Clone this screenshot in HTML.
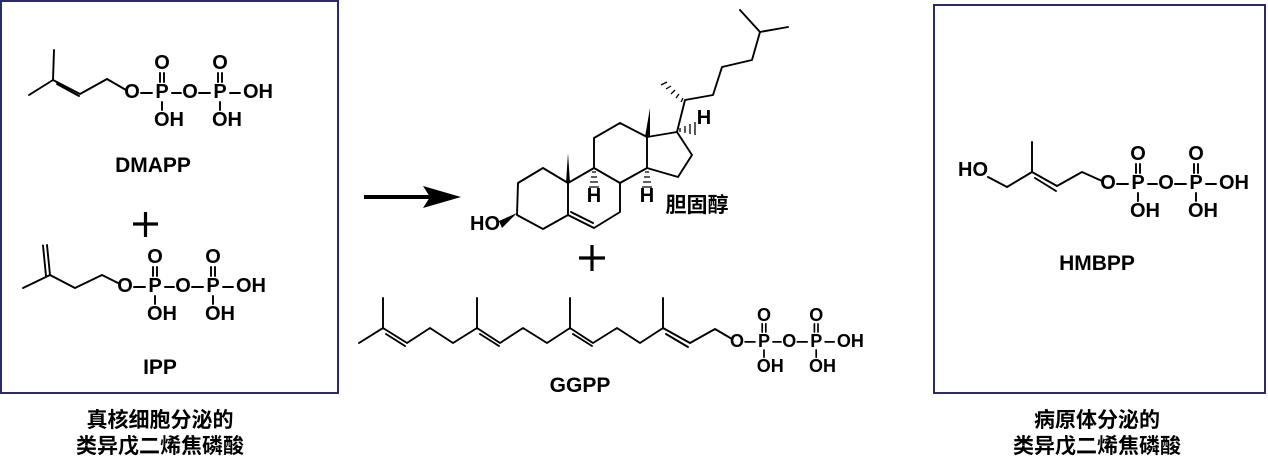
<!DOCTYPE html>
<html><head><meta charset="utf-8"><style>
html,body{margin:0;padding:0;background:#fff;}
svg{display:block;}
text{font-family:"Liberation Sans","Noto Sans CJK SC",sans-serif;font-weight:bold;fill:#000;}
.b{stroke:#000;stroke-width:1.9;fill:none;stroke-linecap:round;stroke-linejoin:round;}
.cn{font-family:"Liberation Sans","Noto Sans CJK SC",sans-serif;font-size:21px;}
</style></head><body>
<svg width="1268" height="461" viewBox="0 0 1268 461" xmlns="http://www.w3.org/2000/svg">
<defs>
<g id="pp">
  <g font-size="20" text-anchor="middle" dominant-baseline="central">
    <text x="0" y="0">O</text>
    <text x="30" y="0">P</text>
    <text x="58" y="0">O</text>
    <text x="88" y="0">P</text>
    <text x="126" y="0">OH</text>
    <text x="30" y="-29">O</text>
    <text x="88" y="-29">O</text>
  </g>
  <g font-size="20" dominant-baseline="central">
    <text x="22" y="28">OH</text>
    <text x="80" y="28">OH</text>
  </g>
  <g class="b">
    <path d="M9 1H20M40 1H49M67 1H78M98 1H108"/>
    <path d="M28 -19V-10M32 -19V-10M86 -19V-10M90 -19V-10"/>
    <path d="M30 10V18M88 10V18"/>
  </g>
</g>
</defs>

<rect x="1" y="1" width="337" height="392" fill="none" stroke="#2a2a6a" stroke-width="2"/>
<rect x="934" y="5" width="331" height="388" fill="none" stroke="#2a2a6a" stroke-width="2"/>

<g class="b">
  <path d="M54 50L53 80L29 95M53 80L80 94L107 79L126 90M57 84L79 96"/>
</g>
<use href="#pp" x="132" y="92"/>
<text x="153" y="172" font-size="21" text-anchor="middle">DMAPP</text>

<path d="M133 224H158M145.5 212V237" stroke="#000" stroke-width="3.2"/>

<g class="b">
  <path d="M47 245L50 275M43 245.5L46 276M50 275L23 288M50 275L75 288L102 275L120 284"/>
</g>
<use href="#pp" x="125" y="286"/>
<text x="160" y="374" font-size="21" text-anchor="middle">IPP</text>

<text class="cn" x="160" y="427" text-anchor="middle">真核细胞分泌的</text>
<text class="cn" x="160" y="453" text-anchor="middle">类异戊二烯焦磷酸</text>
<text class="cn" x="1097" y="427" text-anchor="middle">病原体分泌的</text>
<text class="cn" x="1097" y="453" text-anchor="middle">类异戊二烯焦磷酸</text>

<path d="M364 197H430" stroke="#000" stroke-width="4"/>
<path d="M423 186L461 197L423 208L430 197Z" fill="#000"/>

<g class="b">
  <path d="M517 215L518 183L543 168L568 183L568 215L543 229L517 215"/>
  <path d="M568 183L594 168L620 183L620 212L594 228L568 215M571 212L593 223"/>
  <path d="M594 168L594 138L620 123L647 137L647 168L620 183"/>
  <path d="M647 137L677 132L692 155L678 177L647 168"/>
  <path d="M677 132L685 100L713 95L722 67L752 60L760 32L740 10M760 32L788 27"/>
</g>
<path d="M568 153L566 183L570 183Z" fill="#000"/>
<path d="M650 108L645 137L650 137Z" fill="#000"/>
<path d="M517 213L499 221L502 228Z" fill="#000"/>
<g stroke="#000" stroke-width="1.3">
  <path d="M592 172H596M591 177H597M590 182H598M589 187H599"/>
  <path d="M645 172H649M644 177H650M643 182H651M642 187H652"/>
  <path d="M680 132V128M685 133V126M690 134V124M695 135V122"/>
  <path d="M683 98L681 102M679 94L676 98M675 90L671 94M671 86L666 89M667 82L661 85"/>
</g>
<g font-size="20" text-anchor="middle" dominant-baseline="central">
  <text x="594" y="196">H</text>
  <text x="647" y="196">H</text>
  <text x="704" y="118">H</text>
  <text x="485" y="224">HO</text>
</g>
<text class="cn" x="697" y="212" text-anchor="middle">胆固醇</text>

<path d="M579 258H605M592 245V271" stroke="#000" stroke-width="3.2"/>

<g class="b">
  <path d="M359 343L383 328L407 343L430 328L453 343L477 328L500 343L523 328L547 343L570 328L593 343L617 328L640 343L663 328L690 343L715 329L732 339"/>
  <path d="M383 328V298M477 328V298M570 328V298M663 328V298"/>
  <path d="M386 334L405 346M480 334L499 346M573 334L592 346M666 334L688 347"/>
</g>
<g transform="translate(737 341) scale(0.9)"><use href="#pp"/></g>
<text x="580" y="392" font-size="21" text-anchor="middle">GGPP</text>

<text x="973" y="170" font-size="20" text-anchor="middle" dominant-baseline="central">HO</text>
<g class="b">
  <path d="M988 177L1007 187L1032 172L1057 186L1082 172L1102 181M1032 172V142M1035 178L1056 191"/>
</g>
<use href="#pp" x="1108" y="183"/>
<text x="1097" y="270" font-size="21" text-anchor="middle">HMBPP</text>
</svg>
</body></html>
